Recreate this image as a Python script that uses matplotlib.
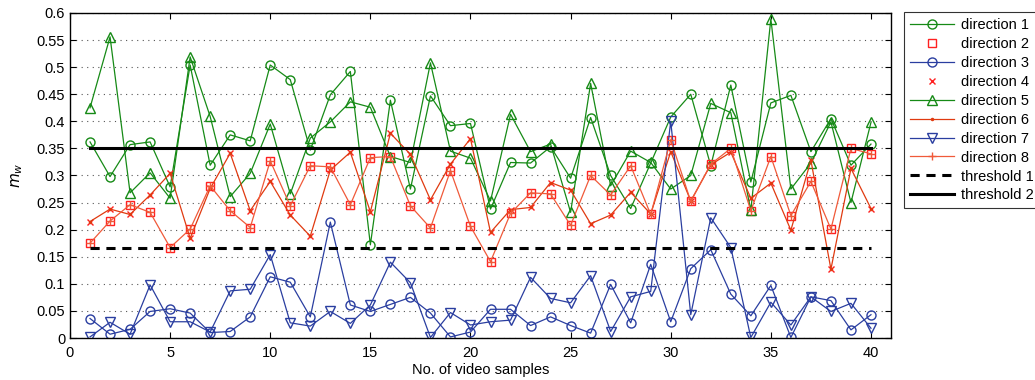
import matplotlib
matplotlib.use("Agg")
import matplotlib.pyplot as plt
import numpy as np

samples = list(range(1, 41))

dir1 = [0.362, 0.298, 0.357, 0.362, 0.279, 0.504, 0.319, 0.375, 0.364, 0.504,
        0.477, 0.347, 0.449, 0.492, 0.172, 0.439, 0.275, 0.447, 0.392, 0.396,
        0.238, 0.324, 0.323, 0.353, 0.295, 0.407, 0.300, 0.239, 0.323, 0.408,
        0.450, 0.318, 0.467, 0.288, 0.434, 0.448, 0.344, 0.405, 0.319, 0.358]

dir5 = [0.425, 0.556, 0.268, 0.305, 0.258, 0.519, 0.409, 0.261, 0.304, 0.395,
        0.266, 0.369, 0.399, 0.436, 0.426, 0.335, 0.324, 0.508, 0.345, 0.332,
        0.253, 0.413, 0.344, 0.358, 0.232, 0.470, 0.281, 0.345, 0.324, 0.275,
        0.300, 0.433, 0.416, 0.236, 0.589, 0.275, 0.323, 0.399, 0.250, 0.398]

dir2 = [0.175, 0.216, 0.246, 0.232, 0.167, 0.201, 0.281, 0.235, 0.204, 0.327,
        0.244, 0.318, 0.316, 0.246, 0.333, 0.335, 0.244, 0.203, 0.309, 0.206,
        0.141, 0.230, 0.268, 0.266, 0.208, 0.300, 0.264, 0.318, 0.228, 0.366,
        0.252, 0.321, 0.350, 0.235, 0.335, 0.226, 0.289, 0.201, 0.350, 0.340]
dir8 = list(dir2)

dir4 = [0.215, 0.238, 0.228, 0.264, 0.304, 0.184, 0.276, 0.341, 0.235, 0.289,
        0.227, 0.188, 0.310, 0.343, 0.233, 0.378, 0.339, 0.255, 0.321, 0.368,
        0.195, 0.237, 0.241, 0.287, 0.273, 0.211, 0.227, 0.269, 0.229, 0.344,
        0.253, 0.320, 0.343, 0.258, 0.286, 0.199, 0.328, 0.127, 0.313, 0.239]
dir6 = list(dir4)

dir3 = [0.036, 0.007, 0.016, 0.049, 0.054, 0.046, 0.010, 0.012, 0.039, 0.113,
        0.103, 0.039, 0.214, 0.061, 0.049, 0.062, 0.075, 0.046, 0.002, 0.011,
        0.053, 0.053, 0.023, 0.039, 0.023, 0.009, 0.099, 0.028, 0.136, 0.030,
        0.128, 0.163, 0.081, 0.041, 0.097, 0.001, 0.076, 0.069, 0.015, 0.043]

dir7 = [0.002, 0.029, 0.007, 0.098, 0.030, 0.030, 0.011, 0.087, 0.090, 0.154,
        0.028, 0.022, 0.049, 0.027, 0.061, 0.140, 0.102, 0.001, 0.047, 0.024,
        0.030, 0.033, 0.112, 0.073, 0.065, 0.115, 0.012, 0.076, 0.086, 0.400,
        0.043, 0.222, 0.167, 0.001, 0.066, 0.024, 0.076, 0.049, 0.064, 0.018]

threshold1 = 0.167
threshold2 = 0.35

green = '#168a16'
red_sq = '#ff2020'
red6 = '#e03a10'
red8 = '#f05a3a'
blue = '#2a3ea0'

plt.rcParams['font.family'] = ['Liberation Sans', 'DejaVu Sans']
fig = plt.figure(figsize=(10.35, 3.8), dpi=100)
ax = fig.add_axes([70/1035, 42/380, 821/1035, 325/380])

ms = 6.5
lw = 0.9
ax.plot(samples, dir1, color=green, marker='o', mfc='none', ms=ms, lw=lw, label='direction 1')
ax.plot(samples, dir2, color=red_sq, marker='s', mfc='none', ms=5.5, lw=0, ls='none', label='direction 2')
ax.plot(samples, dir3, color=blue, marker='o', mfc='none', ms=ms, lw=lw, label='direction 3')
ax.plot(samples, dir4, color=red_sq, marker='x', ms=5, ls='none', label='direction 4')
ax.plot(samples, dir5, color=green, marker='^', mfc='none', ms=7, lw=lw, label='direction 5')
ax.plot(samples, dir6, color=red6, marker='.', ms=3, lw=lw, label='direction 6')
ax.plot(samples, dir7, color=blue, marker='v', mfc='none', ms=7, lw=lw, label='direction 7')
ax.plot(samples, dir8, color=red8, marker='+', ms=6, lw=lw, label='direction 8')
ax.plot([samples[0], samples[-1]], [threshold1, threshold1], color='black', ls=(0, (3, 2.2)), lw=2.2, label='threshold 1')
ax.plot([samples[0], samples[-1]], [threshold2, threshold2], color='black', ls='-', lw=2.2, label='threshold 2')

ax.set_xlim(0, 41)
ax.set_ylim(0, 0.6)
ax.set_xticks(range(0, 41, 5))
yt = np.round(np.arange(0, 0.601, 0.05), 2)
ax.set_yticks(yt)
ax.set_yticklabels(['0' if v == 0 else ('%g' % v) for v in yt])
ax.tick_params(direction='in', top=True, right=True, length=4, labelsize=10.5, width=0.8)
ax.tick_params(axis='x', pad=6)
ax.yaxis.grid(True, ls=(0, (1, 4)), color='#555555', lw=0.8)
ax.set_axisbelow(True)
for s in ax.spines.values():
    s.set_linewidth(1.0)
ax.set_xlabel('No. of video samples', fontsize=10.5, labelpad=2)
ax.set_ylabel('$m_w$', fontsize=11, labelpad=8)

leg = ax.legend(loc='upper left', bbox_to_anchor=(904/821 - 70/821, 1.003), fontsize=10.5,
                frameon=True, fancybox=False, edgecolor='black', borderpad=0.4,
                labelspacing=0.34, handlelength=3.0, handletextpad=0.5, borderaxespad=0)
leg.get_frame().set_linewidth(0.8)

fig.savefig('out.png', dpi=100)
